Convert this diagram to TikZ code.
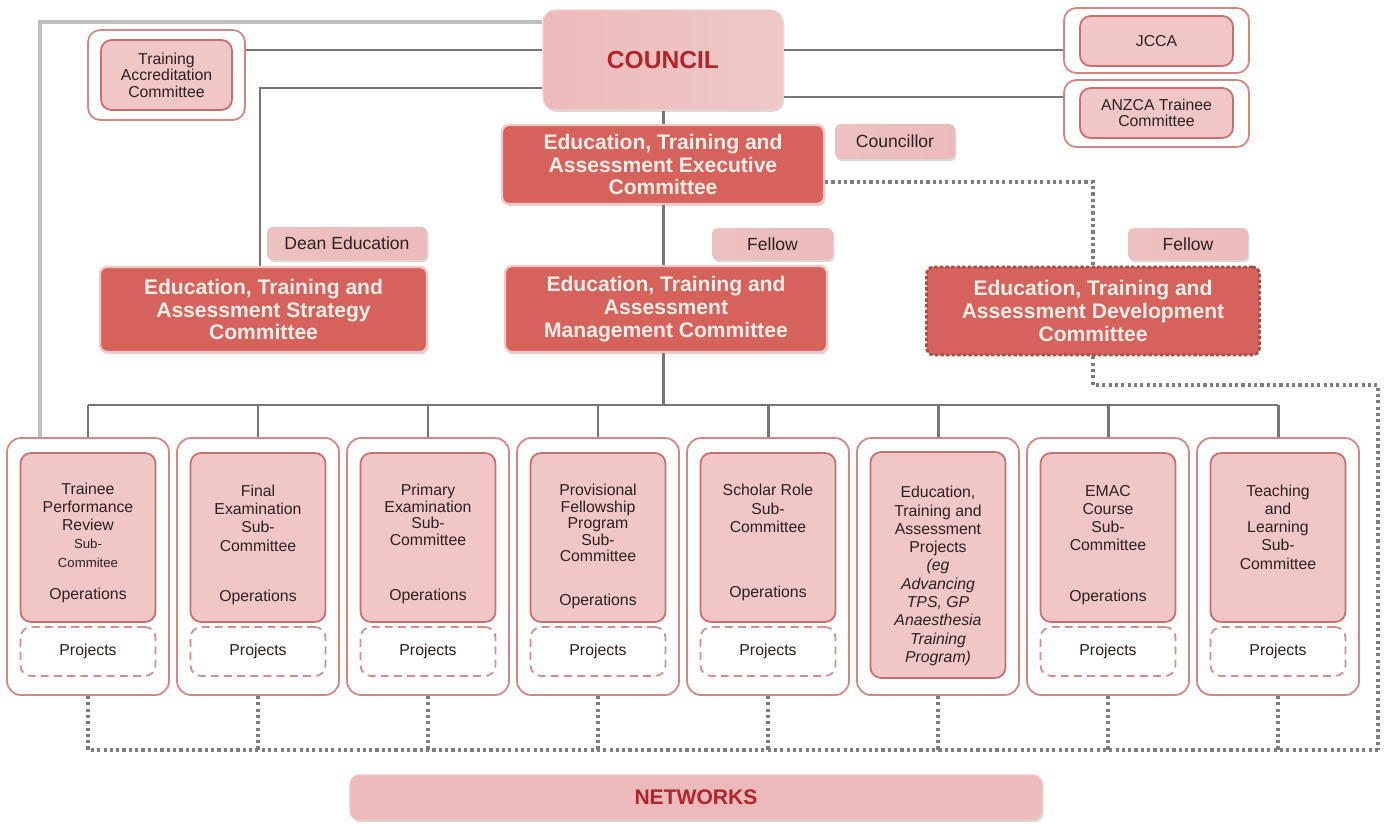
\documentclass[tikz,border=0pt]{standalone}
\usepackage{fontspec}
\setmainfont{Liberation Sans}
\usetikzlibrary{shadows,backgrounds}
\definecolor{salmon}{RGB}{214,98,92}
\definecolor{salmontext}{RGB}{252,238,232}
\definecolor{pinkfill}{RGB}{240,198,198}
\definecolor{pinkborder}{RGB}{200,112,110}
\definecolor{outerborder}{RGB}{214,134,130}
\definecolor{darkline}{RGB}{118,118,118}
\definecolor{lightline}{RGB}{190,190,190}
\definecolor{dotcol}{RGB}{125,125,125}
\definecolor{councilred}{RGB}{178,36,42}
\definecolor{pinkA}{RGB}{236,186,186}
\definecolor{pinkB}{RGB}{252,236,236}
\definecolor{textdark}{RGB}{45,32,32}
\definecolor{devborder}{RGB}{165,78,74}
\tikzset{
  wh/.style 2 args={minimum width=#1*0.02cm, minimum height=#2*0.02cm},
  basebox/.style={inner sep=0pt, align=center, text=textdark},
  shadowed/.style={drop shadow={shadow xshift=0.8pt, shadow yshift=-1.2pt, opacity=0.25, fill=black!60}},
  councilbox/.style={basebox, rounded corners=7pt, draw=pinkA!70!white, line width=0.6pt,
     shading=axis, left color=pinkA, middle color=pinkB, right color=pinkA!80!white, shadowed,
     text=councilred, font=\fontsize{14}{16}\selectfont\bfseries},
  headbox/.style={basebox, rounded corners=4pt, fill=salmon, draw=salmon!35!white, line width=1.3pt,
     shadowed, text=salmontext, font=\fontsize{12}{13}\selectfont\bfseries},
  devbox/.style={basebox, rounded corners=4pt, fill=salmon, draw=devborder, line width=1.5pt,
     dash pattern=on 2pt off 1.2pt, text=salmontext, font=\fontsize{12}{13}\selectfont\bfseries},
  labelbox/.style={basebox, rounded corners=3pt, shading=axis, left color=pinkA!90!white,
     middle color=pinkB, right color=pinkA, shadowed, font=\fontsize{10}{12}\selectfont},
  outerbox/.style={basebox, rounded corners=8pt, fill=white, draw=outerborder, line width=1pt},
  innerbox/.style={basebox, rounded corners=6pt, fill=pinkfill, draw=pinkborder, line width=1pt,
     font=\fontsize{9}{9.4}\selectfont},
  projbox/.style={basebox, rounded corners=6pt, fill=white, draw=pinkborder!80!white, line width=1pt,
     dash pattern=on 4.5pt off 3pt, font=\fontsize{9}{10}\selectfont},
  subtext/.style={basebox, font=\fontsize{9}{10.4}\selectfont},
  netbox/.style={basebox, rounded corners=5pt, shading=axis, left color=pinkA, middle color=pinkB,
     right color=pinkA, draw=pinkA!80!white, line width=0.6pt, shadowed, text=councilred,
     font=\fontsize{12}{14}\selectfont\bfseries},
  dline/.style={draw=darkline, line width=1.7pt},
  lline/.style={draw=lightline, line width=1.8pt},
  dotline/.style={draw=dotcol, line width=1.8pt, dash pattern=on 1.8pt off 1.8pt}
}
\begin{document}
\begin{tikzpicture}[x=0.02cm, y=-0.02cm]
\useasboundingbox (0,0) rectangle (1390,825);

% top row
\node[councilbox, wh={240}{100}] (council) at (663,60) {COUNCIL};
\node[outerbox, wh={157}{90}, rounded corners=7pt] (tacO) at (166.5,75) {};
\node[innerbox, wh={131}{70}] (tac) at (166.5,75) {Training\\Accreditation\\Committee};
\node[outerbox, wh={185}{65}, rounded corners=7pt] (jccaO) at (1156.5,40.5) {};
\node[innerbox, wh={153}{50}] (jcca) at (1156.5,41) {JCCA};
\node[outerbox, wh={185}{67}, rounded corners=7pt] (anzcaO) at (1156.5,113.5) {};
\node[innerbox, wh={153}{50}] (anzca) at (1156.5,113) {ANZCA Trainee\\Committee};

\node[headbox, wh={322}{79}] (exec) at (663,164.5) {Education, Training and\\Assessment Executive\\Committee};
\node[labelbox, wh={120}{35}] (councillor) at (895,141.5) {Councillor};

% second row
\node[labelbox, wh={160}{33}] (dean) at (347,243.5) {Dean Education};
\node[headbox, wh={327}{85}] (strategy) at (263.5,309.5) {Education, Training and\\Assessment Strategy\\Committee};
\node[labelbox, wh={121}{32}] (fellowA) at (772.5,244) {Fellow};
\node[headbox, wh={322}{86}] (mgmt) at (666,309) {Education, Training and\\Assessment\\Management Committee};
\node[labelbox, wh={120}{32}] (fellowB) at (1188,244) {Fellow};
\node[devbox, wh={333}{88}] (dev) at (1093,311) {Education, Training and\\Assessment Development\\Committee};

% bottom row
\foreach \k in {1,...,8}{
  \pgfmathsetmacro\cx{88+170*(\k-1)}
  \node[outerbox, wh={162}{257}] (b\k) at (\cx,566.5) {};
}
\foreach \k in {1,2,3,4,5,7,8}{
  \node[innerbox, wh={135}{169}] (in\k) at (b\k |- 0,537.5) {};
  \node[projbox, wh={135}{49}] (pr\k) at (b\k |- 0,651.5) {Projects};
}
\node[innerbox, wh={135}{226}] (in6) at (b6 |- 0,565) {};

\node[subtext] (t1) at (b1 |- 0,525) {Trainee\\Performance\\Review\\{\fontsize{7.5}{9}\selectfont Sub-}\\{\fontsize{7.5}{9}\selectfont Commitee}};
\node[subtext] (o1) at (b1 |- 0,595) {Operations};
\node[subtext] (t2) at (b2 |- 0,518) {Final\\Examination\\Sub-\\Committee};
\node[subtext] (o2) at (b2 |- 0,597) {Operations};
\node[subtext, font=\fontsize{9}{9.4}\selectfont] (t3) at (b3 |- 0,515) {Primary\\Examination\\Sub-\\Committee};
\node[subtext] (o3) at (b3 |- 0,596) {Operations};
\node[subtext, font=\fontsize{9}{9.4}\selectfont] (t4) at (b4 |- 0,523) {Provisional\\Fellowship\\Program\\Sub-\\Committee};
\node[subtext] (o4) at (b4 |- 0,601) {Operations};
\node[subtext] (t5) at (b5 |- 0,508.5) {Scholar Role\\Sub-\\Committee};
\node[subtext] (o5) at (b5 |- 0,593) {Operations};
\node[subtext] (t6) at (b6 |- 0,576) {Education,\\Training and\\Assessment\\Projects\\\textit{(eg}\\\textit{Advancing}\\\textit{TPS, GP}\\\textit{Anaesthesia}\\\textit{Training}\\\textit{Program)}};
\node[subtext] (t7) at (b7 |- 0,518) {EMAC\\Course\\Sub-\\Committee};
\node[subtext] (o7) at (b7 |- 0,597) {Operations};
\node[subtext] (t8) at (b8 |- 0,527) {Teaching\\and\\Learning\\Sub-\\Committee};

\node[netbox, wh={692}{45}] (net) at (696,797.5) {NETWORKS};

\coordinate (lg) at (40,22);
\coordinate (bus) at (663,405);
\coordinate (rc) at (1378,750);

\begin{pgfonlayer}{background}
  \draw[lline] (council.west |- lg) -- (lg) -- (lg |- b1.north);
  \draw[dline] (tacO.east |- 0,50) -- (council.west |- 0,50);
  \draw[dline] (council.west |- 0,88) -| (strategy.north -| 260,0);
  \draw[dline] (council.east |- 0,50) -- (jccaO.west |- 0,50);
  \draw[dline] (council.east |- 0,97) -- (anzcaO.west |- 0,97);
  \draw[dline] (council.south) -- (council.south |- exec.north);
  \draw[dline] (exec.south) -- (exec.south |- mgmt.north);
  \draw[dline] (bus |- mgmt.south) -- (bus);
  \draw[dline] (b1.north |- bus) -- (b8.north |- bus);
  \foreach \k in {1,...,8}{
    \draw[dline] (b\k.north |- bus) -- (b\k.north);
    \draw[dotline] (b\k.south) -- (b\k.south |- rc);
  }
  \draw[dotline] (exec.east |- 0,182) -| (dev.north);
  \draw[dotline] (dev.south) -- (dev.south |- 0,385) -| (rc);
  \draw[dotline] (rc) -- (b1.south |- rc);
\end{pgfonlayer}
\end{tikzpicture}
\end{document}
